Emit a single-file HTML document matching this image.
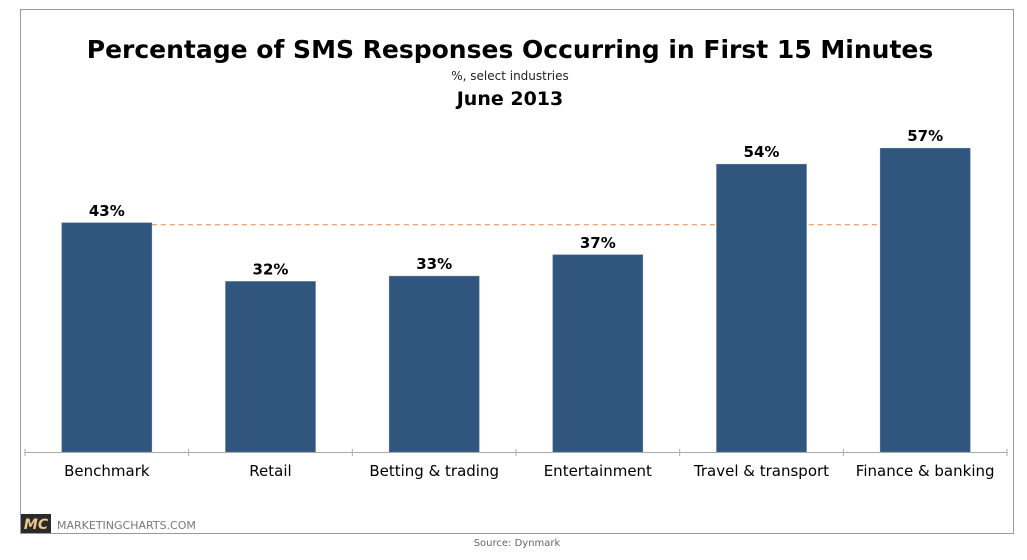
<!DOCTYPE html>
<html><head><meta charset="utf-8"><style>
body{margin:0;background:#fff;width:1027px;height:556px;overflow:hidden;font-family:"DejaVu Sans","Liberation Sans",sans-serif}
</style></head><body>
<svg width="1027" height="556" viewBox="0 0 1027 556" xmlns="http://www.w3.org/2000/svg">
<rect x="20.5" y="9.5" width="993" height="524" fill="#fff" stroke="#9a9a9a"/>
<text x="510" y="58" text-anchor="middle" font-size="25" font-weight="bold" fill="#000">Percentage of SMS Responses Occurring in First 15 Minutes</text>
<text x="510" y="80" text-anchor="middle" font-size="12" fill="#222">%, select industries</text>
<text x="510" y="105" text-anchor="middle" font-size="19" font-weight="bold" fill="#000">June 2013</text>
<g id="plot"></g>
<rect x="21" y="514" width="30" height="19" fill="#2a2a2a"/>
<text x="36" y="529" text-anchor="middle" font-size="14" font-weight="bold" font-style="italic" fill="#e8c98a">MC</text>
<text x="57" y="529" font-size="11" fill="#777">MARKETINGCHARTS.COM</text>
<text x="517" y="546" text-anchor="middle" font-size="10" fill="#666">Source: Dynmark</text>
</svg>
<script>
const categories=["Benchmark","Retail","Betting & trading","Entertainment","Travel & transport","Finance & banking"];
const values=[43,32,33,37,54,57];
const benchmark=43;
const NS="http://www.w3.org/2000/svg";
const g=document.getElementById('plot');
const x0=25,x1=1007,base=452,pxPer=5.33;
const bw=(x1-x0)/categories.length;
const y=v=>base-v*pxPer;
const xc=i=>x0+bw*(i+0.5);
function mk(t,a){const e=document.createElementNS(NS,t);for(const k in a)e.setAttribute(k,a[k]);g.appendChild(e);return e;}
const dl=mk('line',{x1:xc(0),x2:xc(categories.length-1),y1:y(benchmark)+2,y2:y(benchmark)+2,stroke:'#e8854a','stroke-width':1,'stroke-dasharray':'5,4'});


values.forEach((v,i)=>{
 const r=mk('rect',{x:xc(i)-45,y:y(v),width:90,height:base-y(v),fill:'#31567d',stroke:'#5a7a9c','stroke-width':0.5});
 
 
 const t=mk('text',{x:xc(i),y:y(v)-7,'text-anchor':'middle','font-size':15,'font-weight':'bold',fill:'#000'});
 t.textContent=v+'%';
 
 
 const c=mk('text',{x:xc(i),y:476,'text-anchor':'middle','font-size':15,fill:'#000'});
 c.textContent=categories[i];
 
 
});
const ax=mk('line',{x1:x0,x2:x1,y1:base+0.5,y2:base+0.5,stroke:'#aaa','stroke-width':1});


for(let i=0;i<=categories.length;i++){
 const tk=mk('line',{x1:x0+bw*i,x2:x0+bw*i,y1:base-3,y2:base+4,stroke:'#aaa'});
 
 
}
</script>
</body></html>
